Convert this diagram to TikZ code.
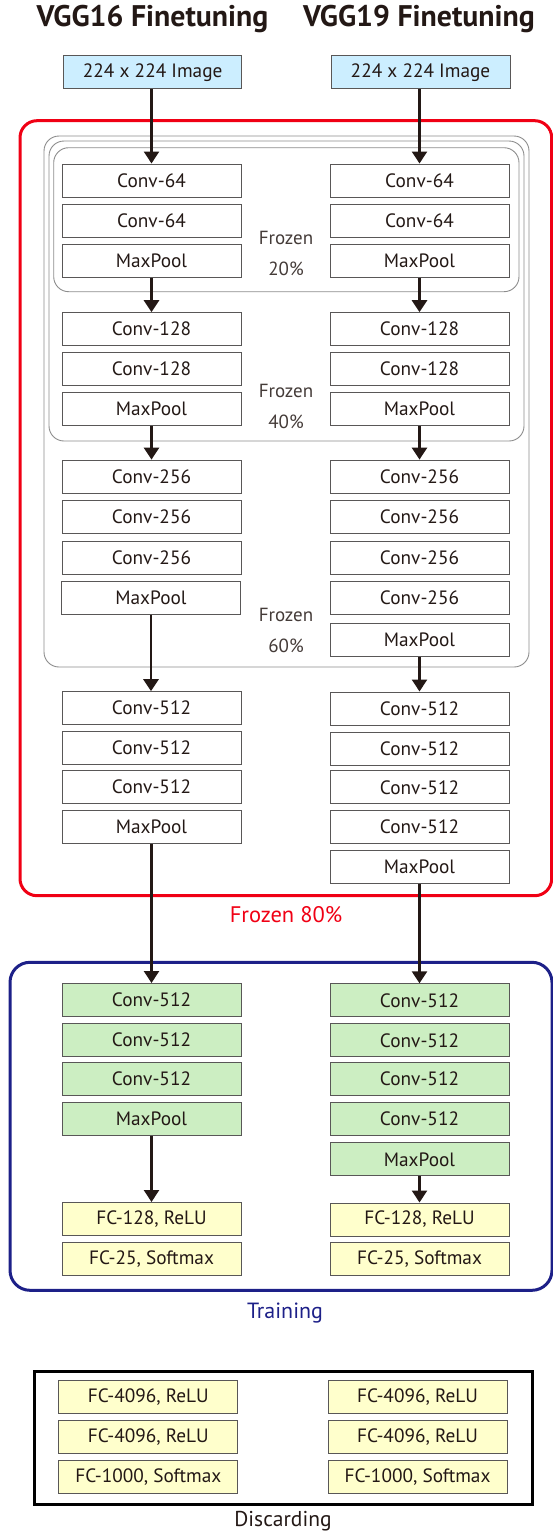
\documentclass[tikz,border=0pt]{standalone}
\usepackage{fontspec}
\setmainfont{PT Sans}
\usetikzlibrary{arrows.meta}
\definecolor{ink}{HTML}{231815}
\definecolor{edge}{HTML}{595757}
\definecolor{imgfill}{HTML}{CCEEFF}
\definecolor{grnfill}{HTML}{CCEEC2}
\definecolor{ylwfill}{HTML}{FFFFCC}
\definecolor{frzred}{HTML}{F00014}
\definecolor{trnblue}{HTML}{1D2088}
\definecolor{grpgray}{HTML}{8C8C8C}
\tikzset{
  layer/.style={draw=edge, line width=1pt, minimum width=179pt, minimum height=33pt, inner sep=0pt, text=ink, font=\fontsize{19.3}{22}\selectfont},
  imgbox/.style={layer, fill=imgfill},
  grnbox/.style={layer, fill=grnfill},
  ylwbox/.style={layer, fill=ylwfill},
  flow/.style={draw=ink, line width=2.6pt, -{Triangle[width=15pt,length=12pt]}},
  grp/.style={draw=grpgray, line width=0.9pt, rounded corners=15pt},
  frzlbl/.style={align=center, text=ink!85, font=\fontsize{19}{31}\selectfont},
  ttl/.style={text=ink, font=\fontsize{29.8}{33}\selectfont\bfseries}
}
\begin{document}
\begin{tikzpicture}[x=1pt,y=-1pt]
\useasboundingbox (0,0) rectangle (553,1534);
% titles
\node[ttl] (t16) at (152.5,19) {VGG16 Finetuning};
\node[ttl] (t19) at (419,19) {VGG19 Finetuning};
% group frames
\draw[draw=frzred, line width=3pt, rounded corners=17pt] (20,120.7) rectangle (551.7,895.7);
\draw[grp] (44,136) rectangle (529,667);
\draw[grp] (49,141) rectangle (524,441);
\draw[grp] (53.7,147.7) rectangle (519,291.7);
\draw[draw=trnblue, line width=3pt, rounded corners=20pt] (10,962.3) rectangle (552,1290.3);
\draw[draw=black, line width=3pt] (34.6,1371) rectangle (532,1504);
% labels
\node[frzlbl] (f20) at (286,253.5) {Frozen\\20\%};
\node[frzlbl] (f40) at (286,406.2) {Frozen\\40\%};
\node[frzlbl] (f60) at (286,630.3) {Frozen\\60\%};
\node[text=frzred, font=\fontsize{22.5}{26}\selectfont] (f80) at (286,915) {Frozen 80\%};
\node[text=trnblue, font=\fontsize{22}{26}\selectfont] (trn) at (285,1313) {Training};
\node[text=ink, font=\fontsize{21.5}{26}\selectfont] (dis) at (283,1521) {Discarding};
% VGG16 column
\node[imgbox, minimum width=178.5pt] (ai) at (152.7,72.3) {224 x 224 Image};
\node[layer] (a1) at (151.5,180.5) {Conv-64};
\node[layer] (a2) at (151.5,220.5) {Conv-64};
\node[layer] (a3) at (151.5,260.5) {MaxPool};
\node[layer] (a4) at (151.5,329.2) {Conv-128};
\node[layer] (a5) at (151.5,369.2) {Conv-128};
\node[layer] (a6) at (151.5,409.2) {MaxPool};
\node[layer] (a7) at (151.5,476.6) {Conv-256};
\node[layer] (a8) at (151.5,517.2) {Conv-256};
\node[layer] (a9) at (151.5,557.5) {Conv-256};
\node[layer] (a10) at (151,597.6) {MaxPool};
\node[layer] (a11) at (151.5,708.2) {Conv-512};
\node[layer] (a12) at (151.5,748.2) {Conv-512};
\node[layer] (a13) at (151.5,786.8) {Conv-512};
\node[layer] (a14) at (151.5,827.2) {MaxPool};
\node[grnbox] (a15) at (151.5,1000) {Conv-512};
\node[grnbox] (a16) at (151.5,1040.2) {Conv-512};
\node[grnbox] (a17) at (151.5,1078.8) {Conv-512};
\node[grnbox] (a18) at (151.5,1118.8) {MaxPool};
\node[ylwbox] (a19) at (151.5,1219) {FC-128, ReLU};
\node[ylwbox] (a20) at (151.5,1259.2) {FC-25, Softmax};
% VGG19 column
\node[imgbox, minimum width=179pt] (bi) at (420.5,72.3) {224 x 224 Image};
\node[layer] (b1) at (419.5,180.5) {Conv-64};
\node[layer] (b2) at (419.5,220.5) {Conv-64};
\node[layer] (b3) at (419.5,260.5) {MaxPool};
\node[layer] (b4) at (419.5,329.2) {Conv-128};
\node[layer] (b5) at (419.5,369.2) {Conv-128};
\node[layer] (b6) at (419.5,409.2) {MaxPool};
\node[layer] (b7) at (419.5,476.6) {Conv-256};
\node[layer] (b8) at (419.5,517.2) {Conv-256};
\node[layer] (b9) at (419.5,558) {Conv-256};
\node[layer] (b10) at (419.5,598) {Conv-256};
\node[layer] (b11) at (419.5,640.2) {MaxPool};
\node[layer] (b12) at (419.5,708.5) {Conv-512};
\node[layer] (b13) at (419.5,748.6) {Conv-512};
\node[layer] (b14) at (419.5,787.4) {Conv-512};
\node[layer] (b15) at (419.5,827.2) {Conv-512};
\node[layer] (b16) at (419.5,867.2) {MaxPool};
\node[grnbox] (b17) at (419.5,1000.3) {Conv-512};
\node[grnbox] (b18) at (419.5,1040.3) {Conv-512};
\node[grnbox] (b19) at (419.5,1079) {Conv-512};
\node[grnbox] (b20) at (419.5,1119) {Conv-512};
\node[grnbox] (b21) at (419.5,1159.4) {MaxPool};
\node[ylwbox] (b22) at (419.5,1219.5) {FC-128, ReLU};
\node[ylwbox] (b23) at (419.5,1259.3) {FC-25, Softmax};
% discarded layers
\node[ylwbox] (c1) at (148.3,1397) {FC-4096, ReLU};
\node[ylwbox] (c2) at (148.3,1437) {FC-4096, ReLU};
\node[ylwbox] (c3) at (148.3,1477) {FC-1000, Softmax};
\node[ylwbox] (d1) at (417.5,1397) {FC-4096, ReLU};
\node[ylwbox] (d2) at (417.5,1437) {FC-4096, ReLU};
\node[ylwbox] (d3) at (417.5,1477) {FC-1000, Softmax};
% arrows VGG16
\draw[flow] (ai.south -| a1.north) -- (a1.north);
\draw[flow] (a3) -- (a4);
\draw[flow] (a6) -- (a7);
\draw[flow] (a10.south) -- (a10.south |- a11.north);
\draw[flow] (a14) -- (a15);
\draw[flow] (a18) -- (a19);
% arrows VGG19
\draw[flow] (bi.south -| b1.north) -- (b1.north);
\draw[flow] (b3) -- (b4);
\draw[flow] (b6) -- (b7);
\draw[flow] (b11) -- (b12);
\draw[flow] (b16) -- (b17);
\draw[flow] (b21) -- (b22);
\end{tikzpicture}
\end{document}
